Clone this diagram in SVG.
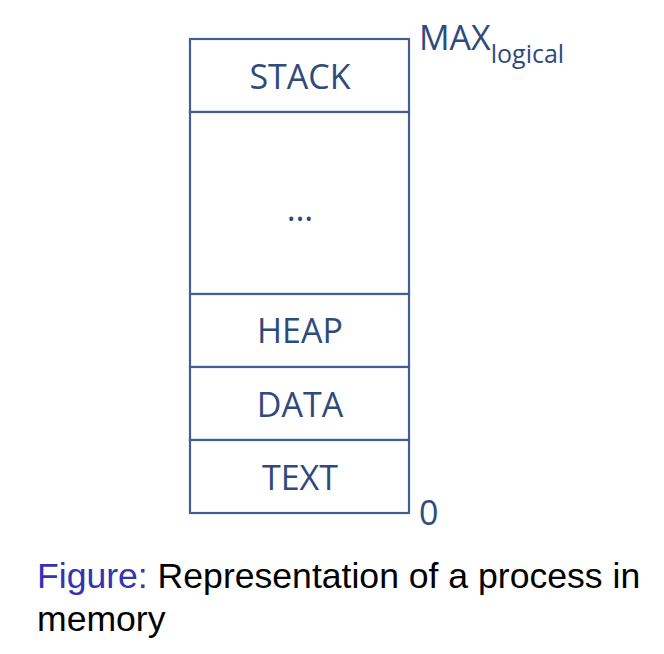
<svg xmlns="http://www.w3.org/2000/svg" width="664" height="654" viewBox="0 0 664 654">
<style>
.box{fill:#ffffff;stroke:#41608f;stroke-width:2.2}
.lbl{font-family:"Open Sans","Noto Sans",sans-serif;font-size:34px;fill:#2e4b7c;text-anchor:middle}
.side{font-family:"Open Sans","Noto Sans",sans-serif;fill:#2e4b7c}
.cap{font-family:"Liberation Sans",Arial,sans-serif;font-size:35.6px;fill:#000000}
</style>
<rect width="664" height="654" fill="#ffffff"/>
<g id="stack"><rect class="box" x="190" y="39" width="219" height="73"/><text class="lbl" x="300" y="89">STACK</text></g>
<g id="gap"><rect class="box" x="190" y="112" width="219" height="182"/><text class="lbl" x="300" y="221">…</text></g>
<g id="heap"><rect class="box" x="190" y="294" width="219" height="73"/><text class="lbl" x="300" y="343">HEAP</text></g>
<g id="data"><rect class="box" x="190" y="367" width="219" height="73"/><text class="lbl" x="300" y="417">DATA</text></g>
<g id="textseg"><rect class="box" x="190" y="440" width="219" height="73"/><text class="lbl" x="300" y="490">TEXT</text></g>
<g id="max"><text class="side" x="419" y="50" font-size="34px">MAX<tspan font-size="25px" dy="13">logical</tspan></text></g>
<g id="zero"><text class="side" x="419" y="525" font-size="34px">0</text></g>
<g id="caption">
<text class="cap" x="37" y="588"><tspan fill="#3333b3">Figure:</tspan> Representation of a process in</text>
<text class="cap" x="37" y="631">memory</text>
</g>
</svg>
